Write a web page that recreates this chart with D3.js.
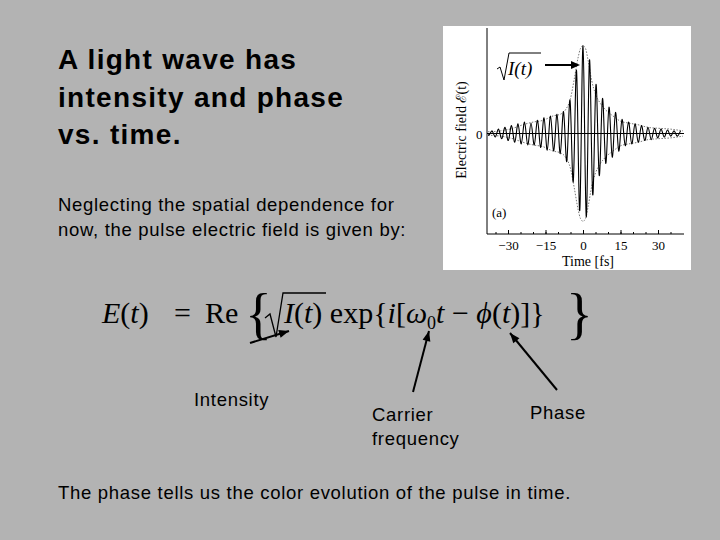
<!DOCTYPE html>
<html><head><meta charset="utf-8">
<script src="https://cdn.jsdelivr.net/npm/d3@7"></script>
<style>body{margin:0;background:#b3b3b3}</style>
</head><body>
<script>
// envelope sqrt(I(t))
const envT = [-38, -33, -28, -24, -20, -16, -12, -9, -7, -5, -3.5, -2, -1, 0, 1, 2, 3.5, 5, 7, 9, 12, 15, 18, 22, 26, 30, 35, 40];
const envV = [0.02, 0.03, 0.06, 0.1, 0.13, 0.15, 0.2, 0.22, 0.27, 0.4, 0.62, 0.86, 0.97, 1.0, 0.97, 0.84, 0.6, 0.45, 0.34, 0.27, 0.2, 0.14, 0.12, 0.1, 0.07, 0.06, 0.05, 0.03];
// field extremes, one per half cycle
const fieldStart = -41.6, halfCycle = 1.3;
const fieldPeaks = [0.02, -0.02, 0.03, -0.02, 0.03, -0.04, 0.05, -0.06, 0.07, -0.08, 0.09, -0.1, 0.11, -0.12, 0.13, -0.13,
  0.12, -0.13, 0.15, -0.16, 0.18, -0.19, 0.2, -0.2, 0.22, -0.23, 0.25, -0.32, 0.38, -0.55, 0.72, -0.88, 1.0, -0.95, 0.84, -0.7,
  0.56, -0.48, 0.4, -0.34, 0.3, -0.27, 0.24, -0.2, 0.16, -0.14, 0.13, -0.12, 0.11, -0.1, 0.09, -0.08, 0.07, -0.07, 0.06, -0.05,
  0.05, -0.04, 0.04, -0.03, 0.03, -0.03, 0.03];
const xTicks = [-30, -15, 0, 15, 30];

const svg = d3.select('body').append('svg').attr('width', 720).attr('height', 540)
  .style('font-family', 'Liberation Sans, Arial, sans-serif');

// title and body text
const title = ['A light wave has', 'intensity and phase', 'vs. time.'];
svg.selectAll('text.title').data(title).enter().append('text')
  .attr('x', 58).attr('y', (d, i) => 69 + i * 37.5)
  .attr('font-size', 28).attr('letter-spacing', 1.3).attr('font-weight', 'bold').attr('fill', '#000').text(d => d);
const body = ['Neglecting the spatial dependence for', 'now, the pulse electric field is given by:'];
svg.selectAll('text.body').data(body).enter().append('text')
  .attr('x', 58).attr('y', (d, i) => 211 + i * 25)
  .attr('font-size', 18.5).attr('letter-spacing', 0.7).text(d => d);
svg.append('text').attr('x', 58).attr('y', 499).attr('font-size', 18.5).attr('letter-spacing', 0.7)
  .text('The phase tells us the color evolution of the pulse in time.');

// inset chart
svg.append('rect').attr('x', 443).attr('y', 26).attr('width', 248).attr('height', 244).attr('fill', '#fff');
const x = d3.scaleLinear().domain([-38, 40]).range([488, 683]);
const y = d3.scaleLinear().domain([-1.02, 1.02]).range([223, 44]);
svg.append('clipPath').attr('id', 'pc').append('rect').attr('x', 488).attr('y', 28).attr('width', 196).attr('height', 206);
const g = svg.append('g').style('font-family', 'Liberation Serif, Times New Roman, serif');
g.append('line').attr('x1', 487).attr('x2', 487).attr('y1', 28).attr('y2', 234).attr('stroke', '#000');
g.append('line').attr('x1', 487).attr('x2', 684).attr('y1', 234).attr('y2', 234).attr('stroke', '#000');
g.append('g').attr('transform', 'translate(0,234)')
  .call(d3.axisBottom(x).tickValues(xTicks).tickSize(-4).tickPadding(7))
  .call(a => a.select('.domain').remove())
  .call(a => a.selectAll('text').attr('font-size', 13).attr('font-family', 'Liberation Serif, serif'));
g.append('g').attr('transform', 'translate(0,234)')
  .call(d3.axisBottom(x).tickValues(d3.range(-35, 40, 5)).tickSize(-2).tickFormat(''))
  .call(a => a.select('.domain').remove());
g.append('text').attr('x', 588).attr('y', 266).attr('text-anchor', 'middle').attr('font-size', 14).text('Time [fs]');
g.append('text').attr('transform', 'translate(466,130) rotate(-90)').attr('text-anchor', 'middle')
  .attr('font-size', 14).text('Electric field ℰ(t)');
g.append('text').attr('x', 476).attr('y', y(0) + 5).attr('font-size', 13).text('0');
g.append('line').attr('x1', 487).attr('x2', 684).attr('y1', y(0)).attr('y2', y(0)).attr('stroke', '#000');
const env = envT.map((t, i) => [t, envV[i]]);
const envLine = d3.line().x(d => x(d[0])).y(d => y(d[1])).curve(d3.curveMonotoneX);
g.append('path').attr('d', envLine(env)).attr('fill', 'none').attr('stroke', '#777').attr('stroke-dasharray', '1.5,1.5');
g.append('path').attr('d', envLine(env.map(d => [d[0], -d[1]]))).attr('fill', 'none').attr('stroke', '#777').attr('stroke-dasharray', '1.5,1.5');
const field = fieldPeaks.map((v, i) => [fieldStart + i * halfCycle, v]);
g.append('path').attr('clip-path', 'url(#pc)')
  .attr('d', d3.line().x(d => x(d[0])).y(d => y(d[1])).curve(d3.curveCardinal)(field))
  .attr('fill', 'none').attr('stroke', '#000').attr('stroke-width', 1.1);
g.append('text').attr('x', 492).attr('y', 217).attr('font-size', 13).text('(a)');
// sqrt(I(t)) label
g.append('path').attr('d', 'M497,69 L500,67 L504,80 L509,53 L541,53').attr('fill', 'none').attr('stroke', '#000');
g.append('text').attr('x', 508).attr('y', 75).attr('font-size', 19).attr('font-style', 'italic').text('I(t)');
g.append('line').attr('x1', 545).attr('x2', 573).attr('y1', 65).attr('y2', 65).attr('stroke', '#000').attr('stroke-width', 2);
g.append('path').attr('d', 'M580,65 L571,61 L571,69 Z');

// equation
const eq = svg.append('g').style('font-family', 'Liberation Serif, Times New Roman, serif').attr('font-size', 30);
const eqT = eq.append('text').attr('x', 102).attr('y', 323);
eqT.append('tspan').attr('font-style', 'italic').text('E');
eqT.append('tspan').text('(');
eqT.append('tspan').attr('font-style', 'italic').text('t');
eqT.append('tspan').text(')');
eq.append('text').attr('x', 174).attr('y', 323).text('=');
eq.append('text').attr('x', 205).attr('y', 323).text('Re');
eq.append('text').attr('x', 245).attr('y', 333).attr('font-size', 56).text('{');
eq.append('path').attr('d', 'M265,318 L270,314 L276,337 L283,293 L326,293').attr('fill', 'none').attr('stroke', '#000').attr('stroke-width', 1.3);
const eq2 = eq.append('text').attr('x', 284).attr('y', 323);
eq2.append('tspan').attr('font-style', 'italic').text('I');
eq2.append('tspan').text('(');
eq2.append('tspan').attr('font-style', 'italic').text('t');
eq2.append('tspan').text(') exp{');
eq2.append('tspan').attr('font-style', 'italic').text('i');
eq2.append('tspan').text('[');
eq2.append('tspan').attr('font-style', 'italic').text('ω');
eq2.append('tspan').attr('font-size', 18).attr('dy', 6).text('0');
eq2.append('tspan').attr('font-style', 'italic').attr('dy', -6).text('t');
eq2.append('tspan').text(' − ');
eq2.append('tspan').attr('font-style', 'italic').text('ϕ');
eq2.append('tspan').text('(');
eq2.append('tspan').attr('font-style', 'italic').text('t');
eq2.append('tspan').text(')]}');
eq.append('text').attr('x', 566).attr('y', 333).attr('font-size', 56).text('}');

// arrows and labels
const arrows = [[250, 343, 289, 331], [413, 392, 429, 331], [557, 390, 510, 333]];
arrows.forEach(a => {
  svg.append('line').attr('x1', a[0]).attr('y1', a[1]).attr('x2', a[2]).attr('y2', a[3]).attr('stroke', '#000').attr('stroke-width', 2);
  const ang = Math.atan2(a[3] - a[1], a[2] - a[0]) * 180 / Math.PI;
  svg.append('path').attr('d', 'M0,0 L-10,-4 L-10,4 Z').attr('transform', `translate(${a[2]},${a[3]}) rotate(${ang})`);
});
const labels = [['Intensity', 194, 406], ['Carrier', 372, 421], ['frequency', 372, 445], ['Phase', 530, 419]];
svg.selectAll('text.lab').data(labels).enter().append('text')
  .attr('x', d => d[1]).attr('y', d => d[2]).attr('font-size', 18.5).attr('letter-spacing', 0.7).text(d => d[0]);
</script>
</body></html>
